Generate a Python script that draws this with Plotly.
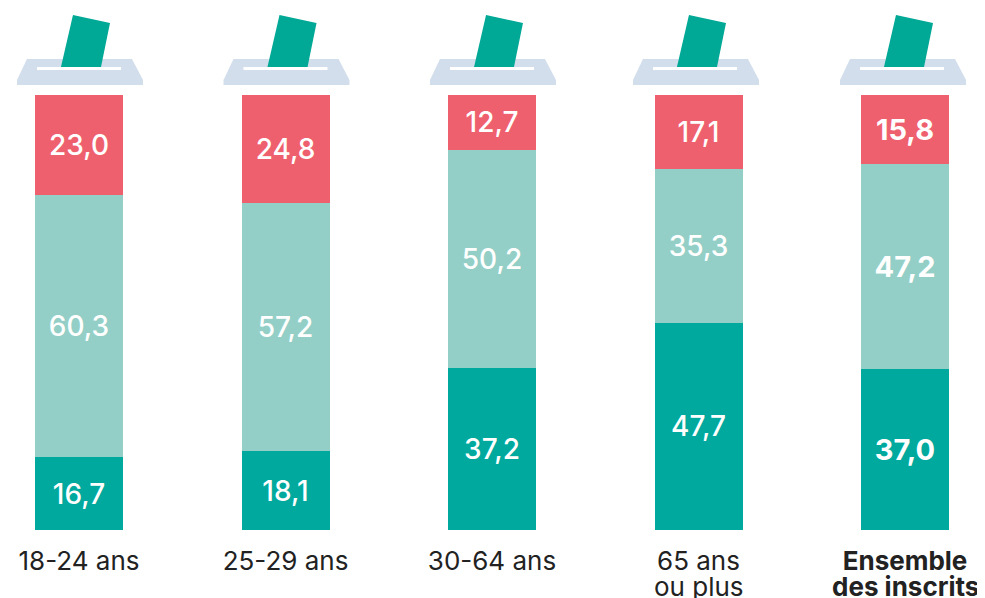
import plotly.graph_objects as go

categories = ["18-24 ans", "25-29 ans", "30-64 ans", "65 ans", "<b>Ensemble</b>"]
second_lines = ["", "", "", "ou plus", "<b>des inscrits</b>"]
bottom = [16.7, 18.1, 37.2, 47.7, 37.0]
middle = [60.3, 57.2, 50.2, 35.3, 47.2]
top = [23.0, 24.8, 12.7, 17.1, 15.8]
bottom_labels = ["16,7", "18,1", "37,2", "47,7", "<b>37,0</b>"]
middle_labels = ["60,3", "57,2", "50,2", "35,3", "<b>47,2</b>"]
top_labels = ["23,0", "24,8", "12,7", "17,1", "<b>15,8</b>"]
FONT = "Inter"

# The page body adds an 8px offset, so the figure is 8px smaller than the window.
PAGE_OFFSET = 8
W, H = 985 - PAGE_OFFSET, 598 - PAGE_OFFSET
M_T, M_B = 95 - PAGE_OFFSET, 598 - 530
BAR0, STEP = 79 - PAGE_OFFSET, 206.5
LABEL_SIZES = [28, 28, 28, 28, 29]

fig = go.Figure()
for vals, labs, col in [(bottom, bottom_labels, "#00a99d"), (middle, middle_labels, "#94cfc7"), (top, top_labels, "#ef606e")]:
    fig.add_bar(x=categories, y=vals, text=labs, marker=dict(color=col, line=dict(width=0)),
                textposition="inside", insidetextanchor="middle", textangle=0, constraintext="none",
                textfont=dict(color="white", size=LABEL_SIZES, family=FONT, weight=500), hoverinfo="skip", width=88 / STEP)


def P(px, py):
    px -= PAGE_OFFSET
    py -= PAGE_OFFSET
    return f"{px / W:.4f},{(H - M_B - py) / (H - M_T - M_B):.4f}"


def poly(pts, color):
    path = "M" + " L".join(P(*p) for p in pts) + " Z"
    return dict(type="path", xref="paper", yref="paper", layer="above", line=dict(width=0), fillcolor=color, path=path)


shapes = []
for c in [80, 286.5, 493, 696, 903]:
    shapes.append(poly([(c - 53, 59), (c + 52, 59), (c + 63, 80), (c + 63, 85), (c - 63, 85), (c - 63, 80)], "#d3deec"))
    shapes.append(poly([(c - 43, 67), (c + 41, 67), (c + 41, 70), (c - 43, 70)], "#ffffff"))
    shapes.append(poly([(c - 7, 15), (c + 30, 23), (c + 21, 67), (c - 19, 67)], "#00a896"))

annotations = [
    dict(x=cat, xref="x", y=(H - M_B - (586 - PAGE_OFFSET)) / (H - M_T - M_B), yref="paper", text=line, showarrow=False,
         yanchor="middle", font=dict(size=26, color="#222222", family=FONT))
    for cat, line in zip(categories, second_lines) if line
]

fig.update_layout(
    barmode="stack", width=W, height=H, showlegend=False,
    margin=dict(l=0, r=0, t=M_T, b=M_B, autoexpand=False), paper_bgcolor="white", plot_bgcolor="white",
    xaxis=dict(showline=False, ticks="", tickfont=dict(size=26, color="#222222", family=FONT), tickangle=0,
               range=[-BAR0 / STEP, (W - BAR0) / STEP], ticklabelstandoff=13, fixedrange=True),
    yaxis=dict(visible=False, range=[0, 100.05], fixedrange=True),
    shapes=shapes, annotations=annotations, font=dict(family=FONT),
)
fig.write_html("out.html")
